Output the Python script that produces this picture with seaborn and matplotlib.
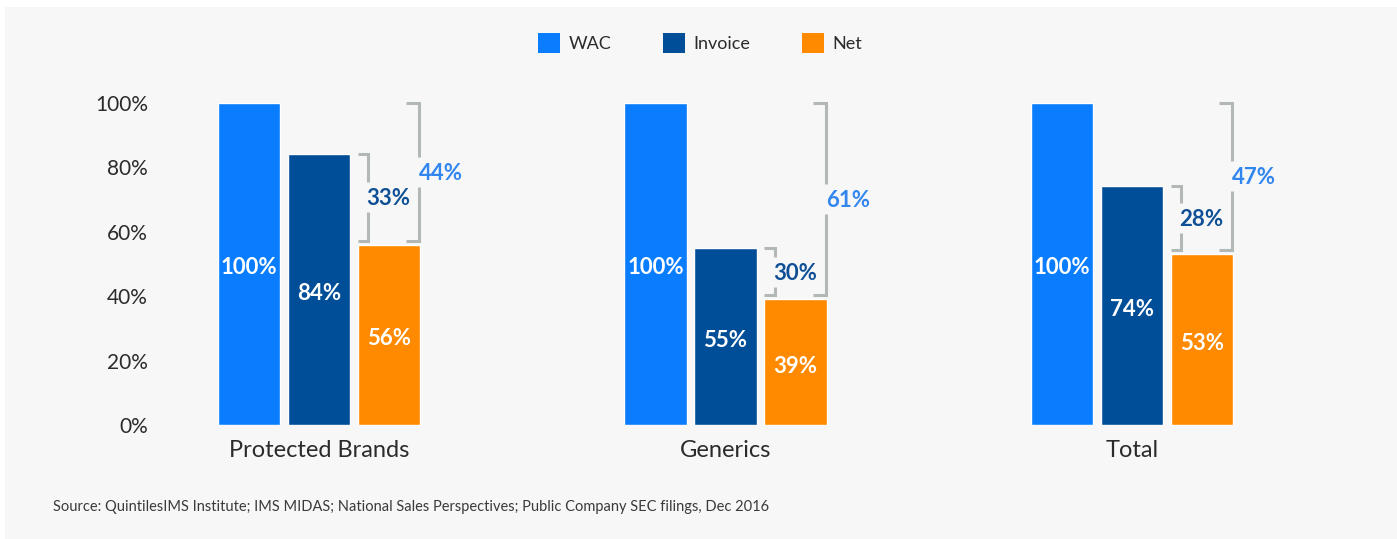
import matplotlib
matplotlib.use("Agg")
import matplotlib.pyplot as plt
from matplotlib.patches import Patch, Rectangle
import pandas as pd
import seaborn as sns

# ---- data -------------------------------------------------------------
segments = ["Protected Brands", "Generics", "Total"]
series = ["WAC", "Invoice", "Net"]
wac = [100, 100, 100]
invoice = [84, 55, 74]
net = [56, 39, 53]
invoice_to_net = [33, 30, 28]   # discount from invoice to net
wac_to_net = [44, 61, 47]       # discount from list price to net
y_ticks = [0, 20, 40, 60, 80, 100]
y_tick_labels = ["0%", "20%", "40%", "60%", "80%", "100%"]
source_note = ("Source: QuintilesIMS Institute; IMS MIDAS; National Sales Perspectives; "
               "Public Company SEC filings, Dec 2016")

colors = {"WAC": "#0a7dff", "Invoice": "#004e98", "Net": "#ff8a00"}
small_label_color = "#0f4f96"
big_label_color = "#3286f0"
bracket_color = "#b2b8b5"
panel_color = "#f7f7f7"
text_color = "#2b2b2b"

df = pd.DataFrame({
    "segment": segments * 3,
    "series": [s for s in series for _ in segments],
    "value": wac + invoice + net,
})

# ---- figure -----------------------------------------------------------
W, H = 1397, 539
sns.set_theme(style="white")
plt.rcParams["font.family"] = ["Lato", "DejaVu Sans"]

fig = plt.figure(figsize=(W / 100, H / 100), dpi=100, facecolor="white")
fig.patches.append(Rectangle((5 / W, 0), 1, 1 - 7 / H, transform=fig.transFigure,
                             facecolor=panel_color, edgecolor="none", zorder=-10))

ax_left, ax_right = 170, 1290
ax_bottom, ax_top = 425, 102.7
ax = fig.add_axes([ax_left / W, 1 - ax_bottom / H,
                   (ax_right - ax_left) / W, (ax_bottom - ax_top) / H])
ax.set_facecolor("none")

sns.barplot(data=df, x="segment", y="value", hue="series", order=segments,
            hue_order=series, palette=colors, width=0.517, gap=0.11,
            saturation=1, legend=False, ax=ax)

px = 406.5  # pixels per category unit
first_center = 319
ax.set_xlim((ax_left - first_center) / px, (ax_right - first_center) / px)
ax.set_ylim(0, 100)
ppy = (ax_bottom - ax_top) / 100  # pixels per percent

for side in ax.spines.values():
    side.set_visible(False)
ax.set_xlabel("")
ax.set_ylabel("")
ax.set_yticks(y_ticks)
ax.set_yticklabels(y_tick_labels, fontsize=15, color=text_color)
ax.tick_params(axis="y", length=0, pad=16)
ax.tick_params(axis="x", length=0, pad=11, labelsize=17, labelcolor=text_color)
ax.grid(False)

# values inside the bars, sitting a touch below the bar middle
for container, values in zip(ax.containers, [wac, invoice, net]):
    for bar, v in zip(container, values):
        ax.text(bar.get_x() + bar.get_width() / 2, v / 2 - 4 / ppy, f"{v}%",
                ha="center", va="center", color="white", fontsize=16,
                fontweight="bold")

# brackets showing the discounts
lw = 2.2
gap_half = 15 / ppy
for i in range(len(segments)):
    net_bar = ax.containers[2][i]
    left = net_bar.get_x()
    right = net_bar.get_x() + net_bar.get_width()
    bottom = net[i] + 4 / ppy

    # invoice -> net
    xs = left + 10.5 / px
    top = invoice[i]
    mid = (top + bottom) / 2
    ax.plot([left, xs, xs], [top, top, mid + gap_half], color=bracket_color,
            lw=lw, solid_joinstyle="miter", solid_capstyle="butt", clip_on=False)
    ax.plot([xs, xs, left], [mid - gap_half, bottom, bottom], color=bracket_color,
            lw=lw, solid_joinstyle="miter", solid_capstyle="butt", clip_on=False)
    ax.text(xs + 20 / px, mid - 1.5 / ppy, f"{invoice_to_net[i]}%", ha="center",
            va="center", color=small_label_color, fontsize=16, fontweight="bold")

    # wac -> net
    xb = right - 1 / px
    top = wac[i]
    mid = (top + bottom) / 2
    xl = xb - 13 / px
    ax.plot([xl, xb, xb], [top, top, mid + gap_half], color=bracket_color,
            lw=lw, solid_joinstyle="miter", solid_capstyle="butt", clip_on=False)
    ax.plot([xb, xb, xl], [mid - gap_half, bottom, bottom], color=bracket_color,
            lw=lw, solid_joinstyle="miter", solid_capstyle="butt", clip_on=False)
    ax.text(xb + 22 / px, mid - 1.5 / ppy, f"{wac_to_net[i]}%", ha="center",
            va="center", color=big_label_color, fontsize=16, fontweight="bold")

# legend
handles = [Patch(facecolor=colors[s], edgecolor="none") for s in series]
fig.legend(handles, series, loc="center", bbox_to_anchor=(700 / W, 1 - 43 / H),
           ncol=3, frameon=False, fontsize=13, handlelength=1.25,
           handleheight=1.25, handletextpad=0.45, columnspacing=2.85,
           labelcolor=text_color)

fig.text(53 / W, 1 - 507 / H, source_note, ha="left", va="center",
         fontsize=10.5, color="#3a3a3a")

fig.savefig("out.png", dpi=100, facecolor="white")
